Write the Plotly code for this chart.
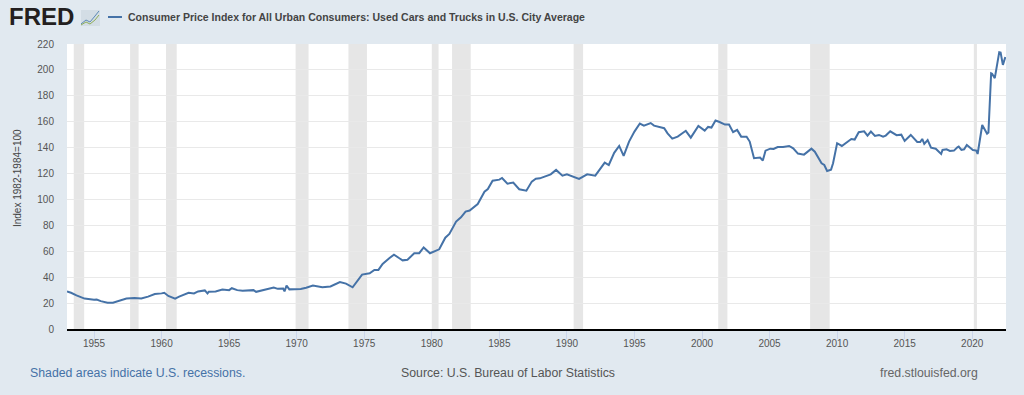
import plotly.graph_objects as go

years = [1953.0,1953.3,1953.7,1954.0,1954.3,1955.0,1955.2,1955.5,1956.0,1956.4,1957.0,1957.4,1958.0,1958.5,1959.0,1959.5,1960.0,1960.2,1960.5,1961.0,
1961.3,1961.7,1962.0,1962.4,1962.7,1963.2,1963.4,1963.5,1964.0,1964.5,1965.0,1965.2,1965.6,1966.0,1966.5,1966.8,1967.0,1967.5,1968.0,1968.3,
1968.6,1969.0,1969.1,1969.25,1969.46,1970.3,1970.7,1971.2,1971.9,1972.5,1973.2,1973.65,1974.14,1974.84,1975.4,1975.75,1976.05,1976.36,1976.85,1977.2,
1977.6,1977.84,1978.2,1978.7,1979.07,1979.4,1979.87,1980.55,1981.0,1981.3,1981.8,1982.16,1982.5,1982.8,1983.4,1983.9,1984.15,1984.5,1985.0,1985.2,
1985.6,1986.03,1986.47,1987.0,1987.4,1987.7,1988.0,1988.8,1989.2,1989.67,1990.0,1990.9,1991.5,1992.1,1992.8,1993.1,1993.5,1993.87,1994.2,1994.6,
1995.0,1995.4,1995.7,1996.2,1996.45,1996.85,1997.2,1997.45,1997.8,1998.2,1998.8,1999.17,1999.73,2000.2,2000.45,2000.7,2001.0,2001.3,2001.7,2002.0,
2002.3,2002.6,2002.9,2003.3,2003.53,2003.85,2004.3,2004.5,2004.7,2005.05,2005.3,2005.6,2006.0,2006.45,2006.75,2007.1,2007.55,2008.1,2008.35,2008.85,
2009.05,2009.26,2009.55,2009.7,2010.0,2010.35,2010.85,2011.05,2011.3,2011.6,2012.0,2012.25,2012.5,2012.8,2013.1,2013.4,2013.6,2013.93,2014.4,2014.75,
2015.0,2015.45,2015.93,2016.15,2016.3,2016.45,2016.7,2016.95,2017.3,2017.7,2017.8,2018.1,2018.35,2018.65,2018.9,2019.0,2019.2,2019.4,2019.6,2020.05,
2020.3,2020.4,2020.74,2020.9,2021.1,2021.2,2021.4,2021.47,2021.67,2022.0,2022.1,2022.27,2022.45]
cpi = [29,28,26,25,23.5,22.5,22.8,21.5,20.3,20.3,22,23.5,24,23.5,25,27,27.5,28,25.5,23.5,
25,27,28,27.5,29,29.8,27.5,28.8,29,30.5,30,31.5,30,29.5,29.5,30,28.7,30,31.5,32,
31,31.2,29,33.5,30.6,30.9,31.9,33.5,32.2,32.8,36.3,35,32.2,42,43,45.6,45.6,50.2,54.6,57.4,
54.6,53,53.5,58.4,58.5,63,58.5,61.5,70.5,73.4,82.9,86.2,90.6,91.5,96.5,106,108,114.5,115.3,116.6,
112.2,113,107.9,106.8,113.8,116,116.3,119.4,122.8,118.4,119.4,115.8,119.4,118.4,128.4,126.6,136,141.3,133.6,144.7,
152.4,158.6,157,159,157,156,155,151,147,148.5,153,147.7,156.8,153.1,156,155.5,160.9,159.8,157.8,157.8,
151.9,153.7,148.5,148.5,144.7,131.8,132.3,130,137.7,139.2,139,140.5,140.5,141.3,139.5,135.4,134.6,139.2,136.9,127.9,
126.6,122,123,128,143.4,141.3,145.2,146.7,146.2,151.9,152.6,149.3,152.4,149,149.8,148.5,149.3,152.6,149.6,150,
145.2,149.8,144.4,144.4,146.7,142.9,145.9,140,139.2,135.1,138.2,138.7,137.4,137.7,140.2,140.8,138.2,138.7,142,138.2,
137.7,135.1,157.5,154.2,150.8,151.6,197.4,197,193.6,213.7,213.4,203.9,210]

recession_start = [1953.5,1957.67,1960.33,1969.92,1973.83,1980.0,1981.5,1990.5,2001.2,2008.0,2020.12]
recession_end = [1954.27,1958.3,1961.12,1970.88,1975.2,1980.5,1982.88,1991.2,2001.88,2009.45,2020.35]
x_ticks = [1955,1960,1965,1970,1975,1980,1985,1990,1995,2000,2005,2010,2015,2020]
y_ticks = list(range(0,221,20))
title = "Consumer Price Index for All Urban Consumers: Used Cars and Trucks in U.S. City Average"
y_title = "Index 1982-1984=100"
note_left = "Shaded areas indicate U.S. recessions."
note_mid = "Source: U.S. Bureau of Labor Statistics"
note_right = "fred.stlouisfed.org"

W, H = 1024, 395
ML, MR, MT, MB = 67, 17.5, 44, 66
BG = "#e1e9f0"
FONT = "Liberation Sans"
LINE = "#4572a7"
px = lambda v: (v - ML) / (W - ML - MR)
py = lambda v: (H - MB - v) / (H - MT - MB)

fig = go.Figure(go.Scatter(x=years, y=cpi, mode="lines", line=dict(color=LINE, width=2), hoverinfo="skip"))

shapes = [dict(type="rect", xref="x", yref="paper", x0=a, x1=b, y0=0, y1=1,
               fillcolor="#e6e6e6", line_width=0, layer="below")
          for a, b in zip(recession_start, recession_end)]
# legend swatch and small logo glyph
shapes.append(dict(type="line", xref="paper", yref="paper", x0=px(108), x1=px(122), y0=py(17), y1=py(17),
                   line=dict(color=LINE, width=2)))
shapes.append(dict(type="rect", xref="paper", yref="paper", x0=px(81), x1=px(100), y0=py(26), y1=py(10),
                   fillcolor="#d3dde5", line_width=0))
shapes.append(dict(type="path", xref="paper", yref="paper",
                   path=f"M {px(81)} {py(24)} L {px(86)} {py(20)} L {px(90)} {py(22)} L {px(95)} {py(16)} L {px(99)} {py(11)}",
                   line=dict(color="#5b8ab5", width=1)))
shapes.append(dict(type="path", xref="paper", yref="paper",
                   path=f"M {px(81)} {py(25)} L {px(86)} {py(22)} L {px(90)} {py(24)} L {px(95)} {py(20)} L {px(99)} {py(15)}",
                   line=dict(color="#8fae5a", width=1)))

def note(text, x, y, size, color, anchor="left", bold=False, angle=0):
    return dict(text=f"<b>{text}</b>" if bold else text, xref="paper", yref="paper",
                x=px(x), y=py(y), xanchor=anchor, yanchor="middle", showarrow=False, textangle=angle,
                xshift=0, yshift=0, borderpad=0, font=dict(family=FONT, size=size, color=color))

annotations = [
    note("FRED", 8, 17, 24, "#231f20", bold=True),
    note(title, 127, 17, 10.53, "#444444", bold=True),
    note(y_title, 17, 178, 10, "#444444", anchor="center", angle=-90),
    note(note_left, 29, 373, 12.3, LINE),
    note(note_mid, 400, 373, 12.3, "#555555"),
    note(note_right, 979, 373, 12.3, "#666666", anchor="right"),
]

fig.update_layout(
    width=W, height=H, autosize=False, showlegend=False,
    paper_bgcolor=BG, plot_bgcolor="#ffffff",
    margin=dict(l=ML, r=MR, t=MT, b=MB),
    shapes=shapes, annotations=annotations,
    font=dict(family=FONT, size=10, color="#555555"),
    xaxis=dict(range=[1953.0, 2022.5], tickvals=x_ticks, ticktext=[str(v) for v in x_ticks],
               showgrid=False, zeroline=False, showline=True, linecolor="#000000", linewidth=2,
               ticks="outside", ticklen=8, tickwidth=1, tickcolor="#ccd6eb", ticklabelstandoff=-4,
               tickfont=dict(size=10, color="#555555")),
    yaxis=dict(range=[0, 220], tickvals=y_ticks, showgrid=True, gridcolor="#e9e9e9", gridwidth=1,
               zeroline=False, showline=False, ticks="outside", ticklen=10, tickcolor="rgba(0,0,0,0)",
               tickfont=dict(size=10, color="#555555")),
)
fig.write_html("out.html", config=dict(displayModeBar=False),
               post_script="document.body.style.margin='0';document.body.style.overflow='hidden';document.body.style.background='%s';" % BG)
